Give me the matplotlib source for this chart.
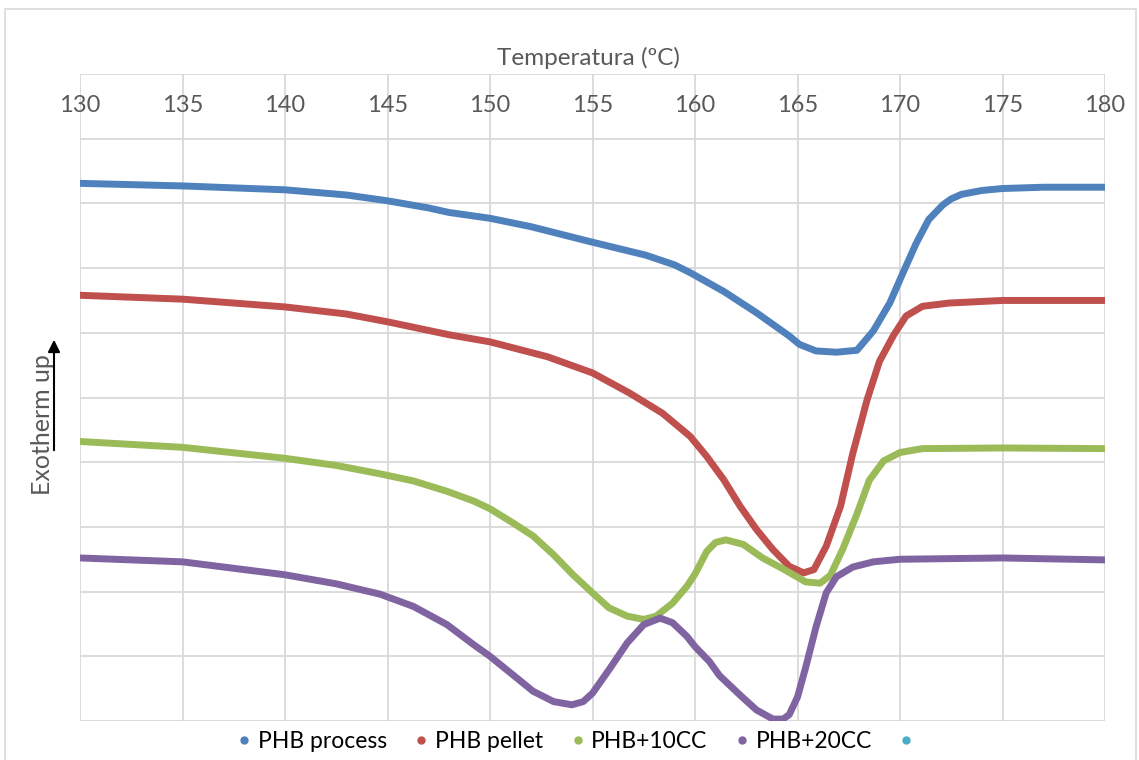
import matplotlib.pyplot as plt
from matplotlib.lines import Line2D
from matplotlib.patches import Rectangle

plt.rcParams['font.family'] = ['Lato', 'DejaVu Sans']

# temperatures (ºC) and heat flow (arbitrary units, exotherm up)
t_process = [130, 135, 140, 143, 145, 147, 148, 150, 152, 155, 157.6, 159, 159.76, 161.4,
             163.0, 164.6, 165.1, 165.9, 166.9, 167.9, 168.7, 169.5, 170.15, 170.8, 171.4,
             172.1, 172.5, 173, 174, 175, 177, 180]
y_process = [8.31, 8.27, 8.21, 8.13, 8.04, 7.93, 7.86, 7.77, 7.64, 7.40, 7.20, 7.05, 6.93, 6.64,
             6.31, 5.95, 5.82, 5.72, 5.70, 5.73, 6.03, 6.46, 6.93, 7.39, 7.75,
             7.98, 8.07, 8.14, 8.20, 8.23, 8.25, 8.25]

t_pellet = [130, 135, 140, 143, 145, 148, 150, 152.8, 155, 156.8, 158.4, 159.76, 160.57,
            161.4, 162.2, 163.0, 163.8, 164.6, 165.3, 165.8, 166.4, 167.1, 167.7, 168.4,
            169.0, 169.7, 170.3, 171.1, 172.4, 175, 180]
y_pellet = [6.58, 6.52, 6.40, 6.29, 6.17, 5.97, 5.86, 5.63, 5.38, 5.07, 4.76, 4.40, 4.09,
            3.73, 3.32, 2.96, 2.65, 2.39, 2.29, 2.34, 2.70, 3.32, 4.14, 4.97,
            5.56, 5.97, 6.26, 6.41, 6.46, 6.50, 6.50]

t_10cc = [130, 135, 140, 142.5, 144.64, 146.27, 147.9, 149.2, 150, 151.13, 152.1, 153.1,
          154.05, 155, 155.8, 156.7, 157.5, 158.1, 158.9, 159.6, 160, 160.57, 161, 161.5,
          162.35, 163.3, 164.3, 165.4, 166.1, 166.6, 167.2, 167.9, 168.5, 169.2, 170,
          171.1, 175, 180]
y_10cc = [4.32, 4.23, 4.06, 3.95, 3.82, 3.71, 3.55, 3.40, 3.28, 3.06, 2.86, 2.57,
          2.26, 1.98, 1.75, 1.62, 1.57, 1.62, 1.82, 2.08, 2.27, 2.62, 2.76, 2.80,
          2.73, 2.52, 2.35, 2.15, 2.13, 2.25, 2.65, 3.20, 3.72, 4.02, 4.15,
          4.21, 4.22, 4.21]

t_20cc = [130, 135, 140, 142.5, 144.64, 146.27, 147.9, 149.2, 150, 151.13, 152.1, 153.1,
          154.0, 154.55, 155, 155.8, 156.7, 157.5, 158.3, 158.9, 159.6, 160, 160.7, 161.2,
          162.2, 163.0, 163.8, 164.3, 164.6, 165, 165.4, 165.9, 166.4, 166.9, 167.7,
          168.7, 170, 175, 180]
y_20cc = [2.52, 2.46, 2.26, 2.12, 1.96, 1.77, 1.49, 1.18, 1.00, 0.71, 0.46, 0.30,
          0.25, 0.30, 0.43, 0.79, 1.21, 1.49, 1.59, 1.52, 1.31, 1.15, 0.92, 0.70,
          0.40, 0.17, 0.03, 0.03, 0.10, 0.37, 0.83, 1.45, 1.98, 2.23, 2.38,
          2.46, 2.50, 2.52, 2.49]

names = ['PHB process', 'PHB pellet', 'PHB+10CC', 'PHB+20CC', '']
colors = ['#4F81BD', '#C0504D', '#9BBB59', '#8064A2', '#4BACC6']
x_ticks = [130, 135, 140, 145, 150, 155, 160, 165, 170, 175, 180]

fig = plt.figure(figsize=(11.39, 7.6), dpi=100)
ax = fig.add_axes([80 / 1139, 1 - 721 / 760, 1025 / 1139, 647 / 760])

series = [(t_process, y_process), (t_pellet, y_pellet), (t_10cc, y_10cc), (t_20cc, y_20cc)]
for (t, y), c in zip(series, colors):
    ax.plot(t, y, color=c, lw=5, solid_capstyle='round', solid_joinstyle='round', zorder=3)

ax.set_xlim(130, 180)
ax.set_ylim(0, 10)
ax.set_xticks(x_ticks)
ax.set_yticks(range(0, 11))
ax.grid(True, color='#D9D9D9', lw=1.3)
ax.set_axisbelow(True)
for s in ax.spines.values():
    s.set_visible(False)
ax.tick_params(axis='y', left=False, labelleft=False)
ax.xaxis.tick_top()
ax.tick_params(axis='x', top=False, bottom=False, labelsize=17, labelcolor='#595959', pad=-34)

fig.text(588 / 1139, 1 - 58 / 760, 'Temperatura (ºC)', ha='center', va='center',
         fontsize=17.5, color='#595959')

# exotherm arrow
fig.text(42 / 1139, 1 - 425 / 760, 'Exotherm up', rotation=90, ha='center', va='center',
         fontsize=18, color='#595959')
fig.add_artist(plt.Annotation('', xy=(54 / 1139, 1 - 337 / 760), xytext=(54 / 1139, 1 - 453 / 760),
                              xycoords='figure fraction',
                              arrowprops=dict(arrowstyle='-|>', color='black', lw=1.5,
                                              mutation_scale=18)))

# outer chart border
fig.patches.append(Rectangle((5 / 1139, -0.05), 1131 / 1139, 1 - 9 / 760 + 0.05,
                             transform=fig.transFigure, fill=False, edgecolor='#D9D9D9', lw=1.2))

handles = [Line2D([], [], marker='o', ls='none', color=c, markersize=5) for c in colors]
fig.legend(handles, names, loc='center', bbox_to_anchor=(0.506, 1 - 742 / 760), ncol=5,
           frameon=False, fontsize=16.5, handletextpad=0.1, columnspacing=1.0, handlelength=1.0)

fig.savefig('out.png', dpi=100)
